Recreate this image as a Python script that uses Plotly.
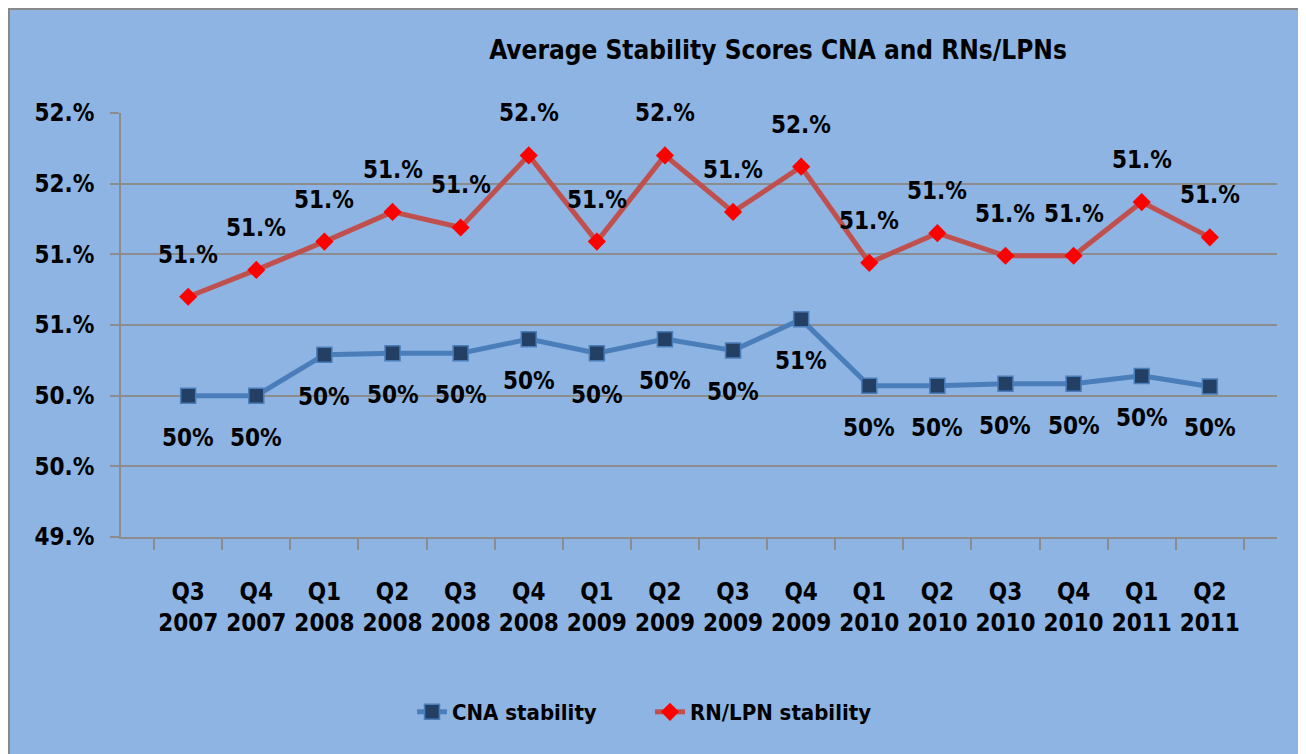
import plotly.graph_objects as go

quarters = ["Q3", "Q4", "Q1", "Q2", "Q3", "Q4", "Q1", "Q2", "Q3", "Q4",
            "Q1", "Q2", "Q3", "Q4", "Q1", "Q2"]
years = ["2007", "2007", "2008", "2008", "2008", "2008", "2009", "2009", "2009", "2009",
         "2010", "2010", "2010", "2010", "2011", "2011"]
categories = [f"{q}<br>{y}" for q, y in zip(quarters, years)]

cna = [50.50, 50.50, 50.79, 50.80, 50.80, 50.90, 50.80, 50.90, 50.82, 51.04,
       50.57, 50.57, 50.585, 50.585, 50.64, 50.565]
cna_labels = ["50%"] * 9 + ["51%"] + ["50%"] * 6

rn = [51.20, 51.39, 51.59, 51.80, 51.69, 52.20, 51.59, 52.20, 51.80, 52.12,
      51.44, 51.65, 51.49, 51.49, 51.87, 51.62]
rn_labels = ["51.%"] * 5 + ["52.%", "51.%", "52.%", "51.%", "52.%"] + ["51.%"] * 6

y_ticks = [49.5, 50.0, 50.5, 51.0, 51.5, 52.0, 52.5]
y_ticktext = ["49.%", "50.%", "50.%", "51.%", "51.%", "52.%", "52.%"]

FONT = "DejaVu Sans Condensed, Liberation Sans Narrow, sans-serif"
BG = "#8DB4E2"
GRID = "#8C8C8C"

fig = go.Figure()
fig.add_trace(go.Scatter(
    x=categories, y=cna, mode="lines+markers", name="CNA stability",
    line=dict(color="#4A7EBB", width=5),
    marker=dict(symbol="square", size=15, color="#233F63",
                line=dict(color="#4A7EBB", width=1.5))))
fig.add_trace(go.Scatter(
    x=categories, y=rn, mode="lines+markers", name="RN/LPN stability",
    line=dict(color="#C0504D", width=5),
    marker=dict(symbol="diamond", size=14, color="#FF0000")))

# data labels, CNA below and RN/LPN above the points
for c, v, t in zip(categories, cna, cna_labels):
    fig.add_annotation(x=c, y=v, text=t, showarrow=False, yshift=-42,
                       font=dict(family=FONT, size=24, color="black", weight="bold"))
for c, v, t in zip(categories, rn, rn_labels):
    fig.add_annotation(x=c, y=v, text=t, showarrow=False, yshift=42,
                       font=dict(family=FONT, size=24, color="black", weight="bold"))

# chart frame
fig.add_shape(type="rect", xref="paper", yref="paper",
              x0=-0.0969, x1=1.1, y0=-0.6, y1=1.2453,
              line=dict(color="#888888", width=2), fillcolor=BG, layer="below")

W, H = 1298, 746
fig.update_layout(
    width=W, height=H,
    margin=dict(l=113, r=W - 113 - 1156, t=105, b=H - 105 - 424, autoexpand=False),
    paper_bgcolor=BG, plot_bgcolor="rgba(0,0,0,0)",
    font=dict(family=FONT, color="black"),
    title=dict(text="Average Stability Scores CNA and RNs/LPNs",
               xref="container", x=770 / W, xanchor="center",
               yref="container", y=1 - 42.2 / H, yanchor="middle",
               font=dict(family=FONT, size=26, color="black", weight="bold")),
    legend=dict(orientation="h", xref="container", x=404 / W, xanchor="left",
                yref="container", y=1 - 704 / H, yanchor="middle",
                entrywidth=193, entrywidthmode="pixels",
                font=dict(family=FONT, size=22, color="black", weight="bold"),
                bgcolor="rgba(0,0,0,0)"),
    xaxis=dict(type="category", tickson="boundaries", ticks="outside", ticklen=11,
               tickcolor=GRID, tickwidth=1.5, showline=True, linecolor=GRID, linewidth=1.5,
               showgrid=False, ticklabelstandoff=32, tickangle=0, automargin=False,
               tickfont=dict(family=FONT, size=24, color="black", weight="bold")),
    yaxis=dict(range=[49.5, 52.5], tickvals=y_ticks, ticktext=y_ticktext,
               ticks="outside", ticklen=9, tickcolor=GRID, tickwidth=1.5,
               showline=True, linecolor=GRID, linewidth=1.5, automargin=False,
               showgrid=True, gridcolor=GRID, gridwidth=1.5, zeroline=False,
               ticklabelstandoff=11,
               tickfont=dict(family=FONT, size=24, color="black", weight="bold")),
)

fig.write_html("out.html")
